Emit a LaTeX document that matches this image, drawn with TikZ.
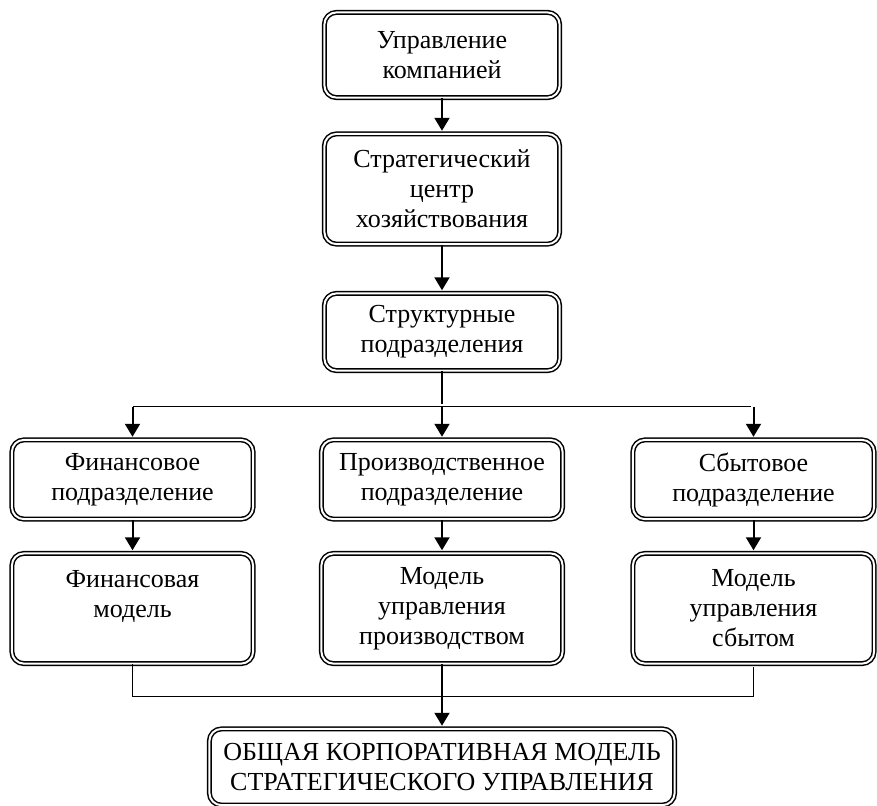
\documentclass[tikz,border=0pt]{standalone}
\usepackage{fontspec}
\setmainfont{Liberation Serif}
\usepackage{tikz}
\usetikzlibrary{positioning}
\usetikzlibrary{arrows.meta}
\tikzset{box node/.style={rectangle,rounded corners=6pt,draw,double,double distance=1pt,line width=0.75pt,align=center,inner sep=0pt,font=\fontsize{13}{15}\selectfont},}
\tikzset{thin link/.style={-,line width=0.6pt},}

\begin{document}
\begin{tikzpicture}[-{Triangle[length=6.5pt,width=7.5pt]}, shorten >=1.2pt, line width=1pt]
	\useasboundingbox (0,0) rectangle (438.5pt,-402.5pt);
		\node[box node, minimum width=117.6pt, minimum height=42.6pt] (upr) at (221pt,-27.5pt) {Управление\\компанией};
	    \node[box node, minimum width=117.6pt, minimum height=55.1pt] (sch) [below = 17.4pt of upr] {Стратегический\\центр\\хозяйствования};
	    \node[box node, minimum width=117.6pt, minimum height=38.6pt] (str) [below = 23.9pt of sch] {Структурные\\подразделения};
	    \node[box node, minimum width=120.6pt, minimum height=39.6pt] (prod) [below = 33.9pt of str] {Производственное\\подразделение};
	    \node[box node, minimum width=120.6pt, minimum height=39.6pt] (fin) [left = 33.4pt of prod] {Финансовое\\подразделение};
	    \node[box node, minimum width=120.6pt, minimum height=39.6pt] (sbyt) [right = 34.4pt of prod] {Сбытовое\\подразделение};
	    \node[box node, minimum width=120.6pt, minimum height=55.1pt] (prodmod) [below = 16.4pt of prod] {Модель\\управления\\производством};
	    \node[box node, minimum width=120.6pt, minimum height=55.1pt] (finmod) [below = 16.4pt of fin] {Финансовая\\модель\\~};
	    \node[box node, minimum width=120.6pt, minimum height=55.1pt] (sbytmod) [below = 16.4pt of sbyt] {Модель\\управления\\сбытом};
	    \node[box node, minimum width=232.6pt, minimum height=38.1pt] (obsh) [below = 31.9pt of prodmod] {ОБЩАЯ КОРПОРАТИВНАЯ МОДЕЛЬ\\СТРАТЕГИЧЕСКОГО УПРАВЛЕНИЯ};

	    \coordinate[below = 17.7pt of str] (split);
	    \coordinate[below = 16.2pt of prodmod] (join);

	    \path
	    (upr) edge (sch)
	    (sch) edge (str)
	    (split) edge (prod)
	    (fin.north |- split) edge (fin)
	    (sbyt.north |- split) edge (sbyt)
	    (fin) edge (finmod)
	    (prod) edge (prodmod)
	    (sbyt) edge (sbytmod)
	    (prodmod) edge (obsh);
	    \draw[-] (str) -- (split);
	    \draw[thin link] (fin.north |- split) -- (sbyt.north |- split);
	    \draw[thin link] (finmod) |- (join) -| (sbytmod);
	\end{tikzpicture}
\end{document}
